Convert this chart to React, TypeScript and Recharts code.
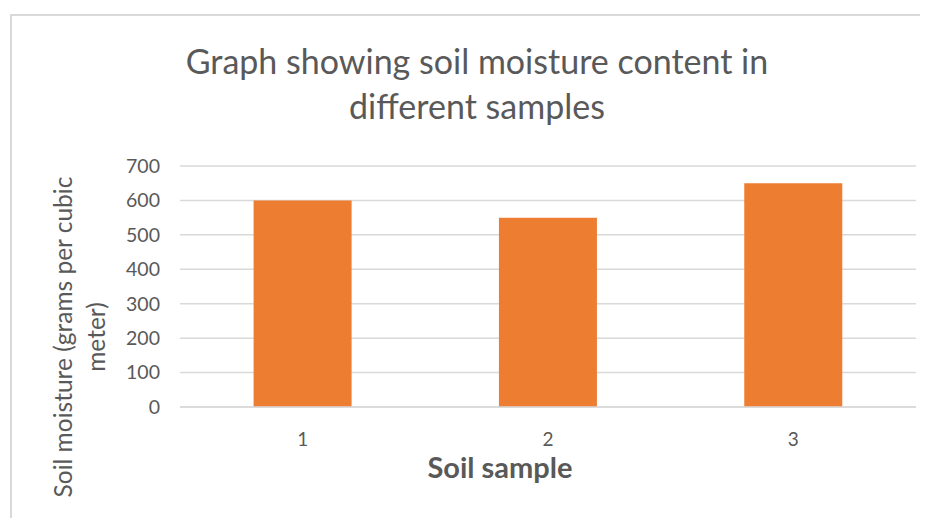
import { BarChart, Bar, XAxis, YAxis, CartesianGrid } from 'recharts';

const samples = ['1', '2', '3'];
const moisture = [600, 550, 650];
const yTicks = [0, 100, 200, 300, 400, 500, 600, 700];

const chartData = samples.map((s, i) => ({ sample: s, moisture: moisture[i] }));

const textColor = '#595959';
const font = 'Lato, "Open Sans", sans-serif';

export default function App() {
  return (
    <div
      style={{
        position: 'relative',
        width: 920,
        height: 518,
        marginBottom: -8,
        overflow: 'hidden',
        fontFamily: font,
      }}
    >
      {/* chart frame: only top and left edges are inside the window */}
      <div
        style={{
          position: 'absolute',
          left: 2,
          top: 6,
          right: 0,
          bottom: 0,
          borderTop: '2px solid #d9d9d9',
          borderLeft: '2px solid #d9d9d9',
        }}
      />
      <div
        style={{
          position: 'absolute',
          left: 0,
          top: 30,
          width: 938,
          textAlign: 'center',
          color: textColor,
          fontSize: 34,
          lineHeight: '45px',
        }}
      >
        Graph showing soil moisture content in
        <br />
        different samples
      </div>
      <div
        style={{
          position: 'absolute',
          left: 71,
          top: 329,
          width: 420,
          transform: 'translate(-50%, -50%) rotate(-90deg)',
          textAlign: 'center',
          color: textColor,
          fontSize: 24.5,
          lineHeight: '33px',
        }}
      >
        Soil moisture (grams per cubic
        <br />
        meter)
      </div>
      <div
        style={{
          position: 'absolute',
          left: 492,
          top: 458,
          transform: 'translate(-50%, -50%)',
          color: textColor,
          fontSize: 29,
          fontWeight: 'bold',
          whiteSpace: 'nowrap',
        }}
      >
        Soil sample
      </div>
      <BarChart
        width={912}
        height={510}
        data={chartData}
        margin={{ top: 158, right: 4, left: 0, bottom: 51 }}
        barCategoryGap="30%"
        style={{ position: 'absolute', left: 0, top: 0 }}
      >
        <CartesianGrid vertical={false} stroke="#d9d9d9" strokeWidth={1.5} />
        <XAxis
          dataKey="sample"
          height={60}
          tickLine={false}
          tickSize={8}
          tickMargin={18}
          axisLine={{ stroke: '#d9d9d9', strokeWidth: 1.5 }}
          tick={{ fill: textColor, fontSize: 19, fontFamily: font }}
        />
        <YAxis
          width={172}
          domain={[0, 700]}
          ticks={yTicks}
          interval={0}
          tickLine={false}
          axisLine={false}
          tickMargin={14}
          tick={{ fill: textColor, fontSize: 19.5, fontFamily: font }}
        />
        <Bar dataKey="moisture" fill="#ED7D31" isAnimationActive={false} />
      </BarChart>
    </div>
  );
}
